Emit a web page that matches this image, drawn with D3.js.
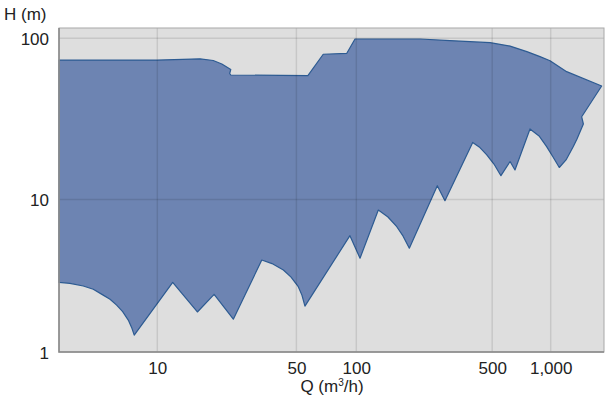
<!DOCTYPE html>
<html><head><meta charset="utf-8">
<script src="https://cdn.jsdelivr.net/npm/d3@7"></script>
<style>body{margin:0;background:#fff}svg{display:block}text{font-family:"Liberation Sans",Arial,Helvetica,sans-serif}</style>
</head><body><svg id="c" width="611" height="400"></svg>
<script>
// Upper envelope of the operating range (Q m3/h, H m), left to right
const upperQ = [3.21, 10, 16.4, 19.1, 21.1, 23.4, 23.1, 23.4, 57.1, 68.2, 89.6, 98.5, 213, 303, 488, 618, 754, 881, 992, 1208, 1828];
const upperH = [73.3, 73.3, 74.6, 72.8, 69.3, 64.0, 60.5, 59.2, 58.6, 79.6, 80.7, 99.0, 99.0, 96.8, 93.9, 89.5, 82.6, 77.0, 72.6, 62.1, 50.6];
// Lower envelope, left to right
const lowerQ = [3.21, 3.64, 4.25, 4.77, 5.35, 5.79, 6.25, 6.70, 7.15, 7.43, 7.66, 11.95, 15.9, 19.3, 24.1, 33.5, 37.7, 43.0, 47.0, 51.1, 53.3, 55.2, 92.9, 104.5, 129.8, 145.5, 161.5, 173.8, 187.4, 261, 285.8, 397, 432.5, 469, 510.6, 554.6, 618, 655, 782.6, 871, 953, 1028, 1107, 1199, 1307, 1365, 1472, 1443, 1828];
const lowerH = [2.86, 2.82, 2.71, 2.58, 2.36, 2.22, 2.03, 1.84, 1.62, 1.45, 1.29, 2.86, 1.83, 2.39, 1.64, 4.01, 3.80, 3.45, 3.10, 2.68, 2.36, 2.00, 5.79, 4.12, 8.53, 7.68, 6.63, 5.77, 4.79, 12.18, 9.82, 22.6, 21.0, 18.9, 16.6, 14.05, 17.2, 15.24, 27.4, 24.8, 21.3, 18.35, 15.8, 17.6, 21.3, 23.7, 29.4, 32.6, 50.6];
const xTicks = [10, 50, 100, 500, 1000];
const xTickLabels = ["10", "50", "100", "500", "1,000"];
const yTicks = [1, 10, 100];
const yTickLabels = ["1", "10", "100"];
const xTitle = "Q (m";
const xTitleSup = "3";
const xTitleEnd = "/h)";
const yTitle = "H (m)";

const svg = d3.select("#c");
const L = 59, R = 604, T = 28, B = 352;
const x = d3.scaleLog().domain([3.21, 10, 100, 1000, 1879]).range([L, 157.3, 356.3, 550.7, R]);
const y = d3.scaleLog().domain([1, 10, 100, 116]).range([B, 199.5, 38.3, T]);

svg.append("rect").attr("x", L).attr("y", T).attr("width", R - L).attr("height", B - T).attr("fill", "#dedede");

const pts = upperQ.map((q, i) => [q, upperH[i]])
  .concat(lowerQ.map((q, i) => [q, lowerH[i]]).reverse());
svg.append("path")
  .attr("d", d3.line().x(d => x(d[0])).y(d => y(d[1]))(pts) + "Z")
  .attr("fill", "#6d84b2").attr("stroke", "#2d5b92").attr("stroke-width", 1.2).attr("stroke-linejoin", "round");

// grid lines over the fill
const g = svg.append("g").attr("stroke", "rgba(0,0,0,0.1)").attr("stroke-width", 1.5);
xTicks.forEach(t => g.append("line").attr("x1", x(t)).attr("x2", x(t)).attr("y1", T).attr("y2", B));
yTicks.slice(1).forEach(t => g.append("line").attr("x1", L).attr("x2", R).attr("y1", y(t)).attr("y2", y(t)));

svg.append("rect").attr("x", L).attr("y", T).attr("width", R - L).attr("height", B - T)
  .attr("fill", "none").attr("stroke", "#a8a8a8").attr("stroke-width", 1);
svg.append("path").attr("d", `M${L},${T}V${B}H${R}`).attr("fill", "none").attr("stroke", "#888").attr("stroke-width", 1.5);

const xa = svg.append("g").attr("transform", `translate(0,${B})`)
  .call(d3.axisBottom(x).tickValues(xTicks).tickFormat((d, i) => xTickLabels[i]).tickSize(0).tickPadding(0));
xa.select(".domain").remove();
xa.selectAll("text").attr("y", 22).attr("dy", null).attr("font-size", 17).attr("fill", "#222")
  .attr("font-family", '"Liberation Sans",Arial,sans-serif');

const ya = svg.append("g").attr("transform", `translate(${L},0)`)
  .call(d3.axisLeft(y).tickValues(yTicks).tickFormat((d, i) => yTickLabels[i]).tickSize(0).tickPadding(0));
ya.select(".domain").remove();
ya.selectAll("text").attr("x", -10).attr("dy", "0.36em").attr("font-size", 17).attr("fill", "#222")
  .attr("font-family", '"Liberation Sans",Arial,sans-serif');

svg.append("text").attr("x", 4).attr("y", 20).attr("font-size", 17).attr("fill", "#222").text(yTitle);
const xt = svg.append("text").attr("x", 332).attr("y", 392).attr("text-anchor", "middle").attr("font-size", 17).attr("fill", "#222");
xt.append("tspan").text(xTitle);
xt.append("tspan").attr("dy", -6).attr("font-size", 10).text(xTitleSup);
xt.append("tspan").attr("dy", 6).text(xTitleEnd);
</script></body></html>
